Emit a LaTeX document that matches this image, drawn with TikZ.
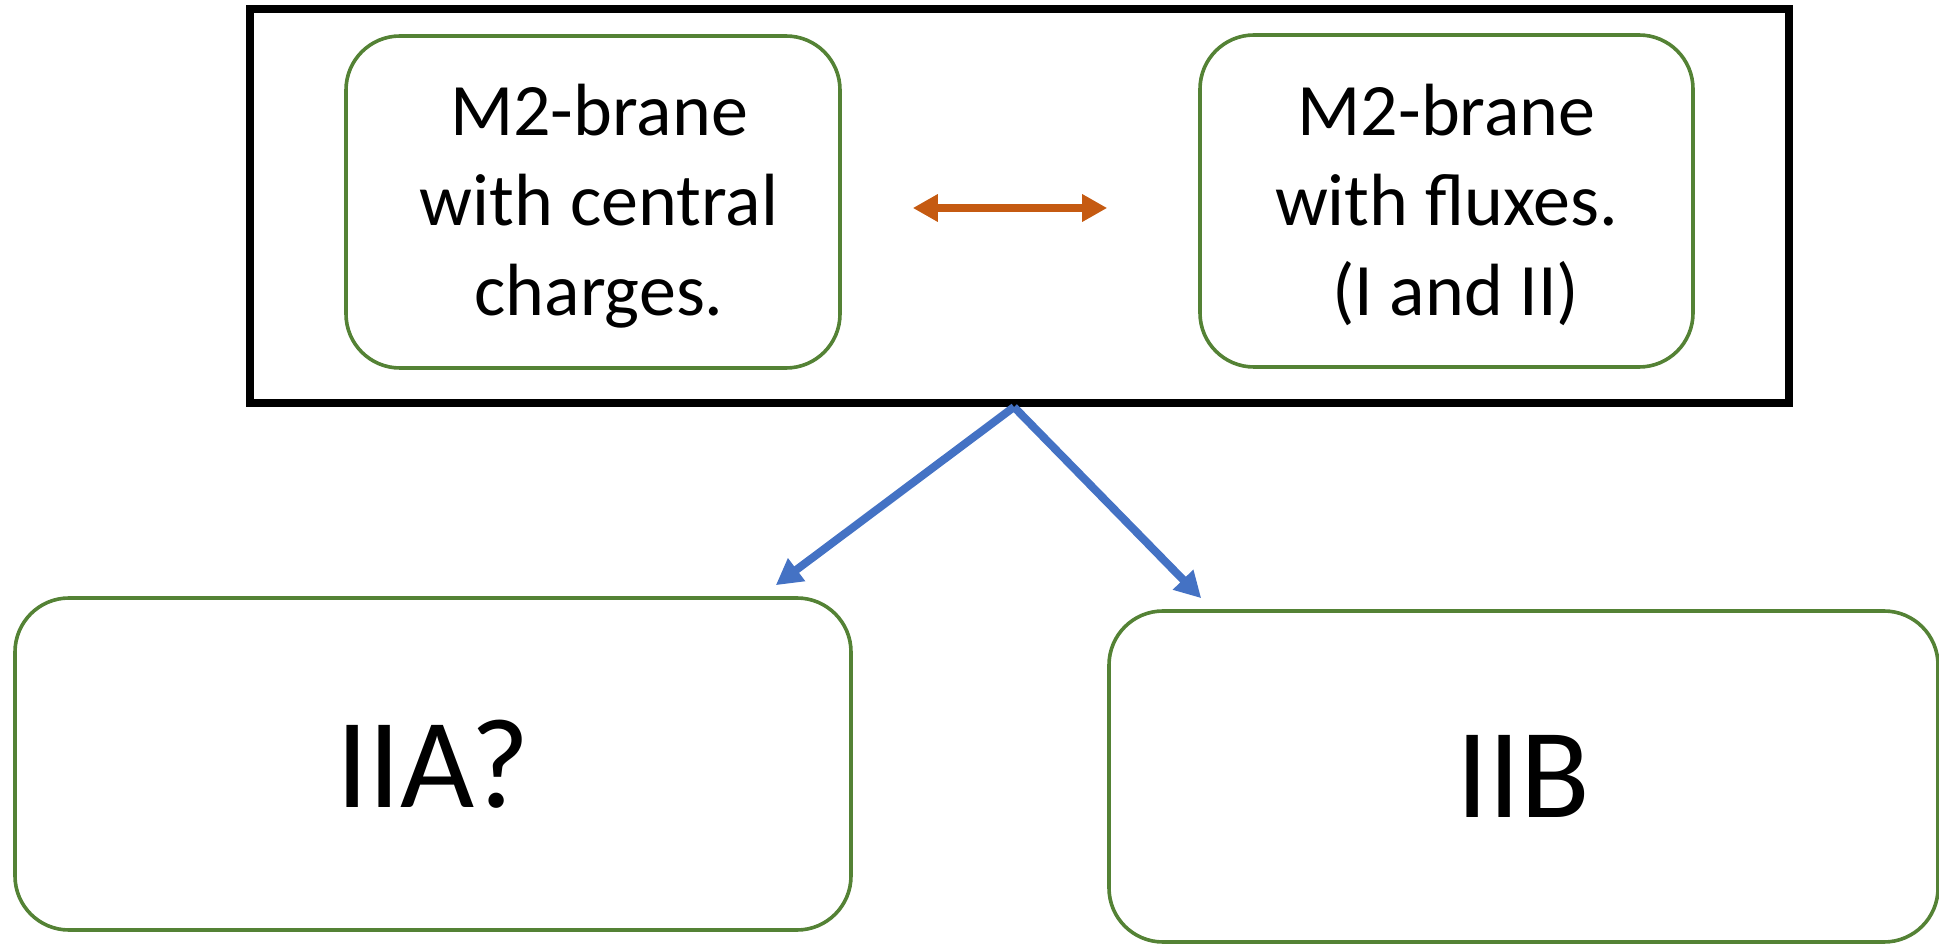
\documentclass[tikz,border=0pt]{standalone}
\usepackage{fontspec}
\setmainfont{Carlito}
\usetikzlibrary{arrows.meta,calc}
\definecolor{boxgreen}{HTML}{548235}
\definecolor{arrorange}{HTML}{C55A11}
\definecolor{arrblue}{HTML}{4472C4}
\begin{document}
\begin{tikzpicture}[x=0.5pt,y=-0.5pt,
  gbox/.style={draw=boxgreen, line width=1.8pt, rounded corners=27pt, inner sep=0pt, align=center},
  toptext/.style={font=\fontsize{37}{45}\selectfont, align=center, inner sep=0pt},
  bigtext/.style={font=\fontsize{64}{76}\selectfont},
  bluearrow/.style={draw=arrblue, line width=4pt, -{Triangle[length=13pt,width=13.5pt]}},
  orangearrow/.style={draw=arrorange, line width=4.2pt, {Triangle[length=12.5pt,width=13pt]}-{Triangle[length=12.5pt,width=13pt]}}]
\useasboundingbox (0,0) rectangle (1939,946);
\node[draw=black, line width=4pt, minimum width=769.5pt, minimum height=197pt, inner sep=0pt] (outer) at (1019.5,206) {};
\node[gbox, minimum width=247pt, minimum height=166pt] (L) at (593,202) {};
\node[toptext] (Ltext) at ($(L.center)+(6,4)$) {M2-brane\\with central\\charges.};
\node[gbox, minimum width=246.5pt, minimum height=166pt] (R) at (1446.5,201) {};
\node[toptext] (Rtext) at ($(R.center)+(0,4)$) {M2-brane\\with fluxes.\\\hspace*{0.25em}(I and II)};
\node[gbox, bigtext, minimum width=418pt, minimum height=166pt] (IIA) at (433,764) {IIA?};
\node[gbox, bigtext, minimum width=414.5pt, minimum height=165.5pt] (IIB) at (1523.5,776.5) {IIB};
\coordinate (os) at ($(outer.south)+(-5.5,0)$);
\coordinate (ta) at ($(IIA.north east)+(-77,-11)$);
\coordinate (tb) at ($(IIB.north west)+(94,-11)$);
\draw[bluearrow] (os) -- (ta);
\draw[bluearrow] (os) -- (tb);
\coordinate (oa) at ($(L.east)+(71,6)$);
\coordinate (ob) at ($(R.west)+(-91,7)$);
\draw[orangearrow] (oa) -- (ob);
\end{tikzpicture}
\end{document}
